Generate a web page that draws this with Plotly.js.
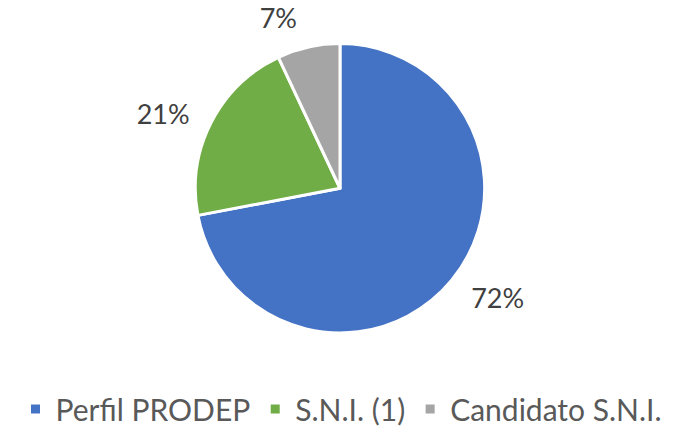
<!DOCTYPE html>
<html>
<head>
<meta charset="utf-8">
<script src="https://cdn.plot.ly/plotly-3.0.1.min.js"></script>
<style>html,body{margin:0;padding:0;background:#fff;}#chart{width:697px;height:435px;}</style>
</head>
<body>
<div id="chart"></div>
<script>
const categories = ["Perfil PRODEP", "S.N.I. (1)", "Candidato S.N.I."];
const values = [72, 21, 7];
const colors = ["#4472C4", "#70AD47", "#A5A5A5"];

const font = "Lato, 'Open Sans', sans-serif";

const pieTrace = {
  type: "pie",
  labels: categories,
  values: values,
  sort: false,
  direction: "clockwise",
  rotation: 0,
  marker: {colors: colors, line: {color: "#ffffff", width: 3}},
  textinfo: "none",
  domain: {x: [194/697, 486/697], y: [1 - 336/435, 1 - 44/435]},
  hoverinfo: "none"
};

// same data, transparent, slightly larger radius: carries the outside percentage labels
const labelTrace = {
  type: "pie",
  labels: categories,
  values: values,
  sort: false,
  direction: "clockwise",
  rotation: 0,
  showlegend: false,
  marker: {colors: ["rgba(0,0,0,0)", "rgba(0,0,0,0)", "rgba(0,0,0,0)"], line: {width: 0}},
  textinfo: "percent",
  texttemplate: "%{percent:.0%}",
  textposition: "outside",
  outsidetextfont: {family: font, size: 27, color: "#404040"},
  domain: {x: [179/697, 501/697], y: [1 - 352/435, 1 - 30/435]},
  hoverinfo: "none"
};

const layout = {
  width: 697, height: 435,
  margin: {l: 0, r: 0, t: 0, b: 0},
  paper_bgcolor: "#ffffff",
  showlegend: true,
  legend: {
    orientation: "h",
    x: 0.49, xanchor: "center",
    y: 1 - 413/435, yanchor: "middle",
    font: {family: font, size: 30, color: "#595959"},
    itemwidth: 30,
    traceorder: "normal"
  }
};

Plotly.newPlot("chart", [pieTrace, labelTrace], layout, {displayModeBar: false, staticPlot: true});
</script>
</body>
</html>
